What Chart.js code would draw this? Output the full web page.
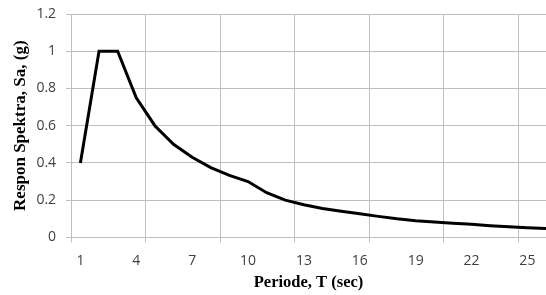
<!DOCTYPE html>
<html>
<head>
<meta charset="utf-8">
<script src="https://cdn.jsdelivr.net/npm/chart.js@4"></script>
<style>
  html, body { margin: 0; padding: 0; background: #fff; }
  #wrap { width: 546px; height: 295px; position: relative; }
</style>
</head>
<body>
<div id="wrap"><canvas id="c" width="546" height="295"></canvas></div>
<script>
const periods = [1,2,3,4,5,6,7,8,9,10,11,12,13,14,15,16,17,18,19,20,21,22,23,24,25,26];
const sa = [0.4,1.0,1.0,0.75,0.6,0.5,0.43,0.375,0.333,0.3,0.24,0.2,0.175,0.155,0.14,0.127,0.113,0.1,0.09,0.083,0.076,0.07,0.063,0.057,0.052,0.048];
const xLabelTicks = [1,4,7,10,13,16,19,22,25];
const xGridTicks = [0.5,4.5,8.5,12.5,16.5,20.5,24.5];
const yTicks = [0,0.2,0.4,0.6,0.8,1.0,1.2];

const gridColor = '#bfbfbf';
const tickFont = { family: 'Open Sans', size: 14 };

new Chart(document.getElementById('c'), {
  type: 'line',
  data: {
    datasets: [{
      data: periods.map((p, i) => ({ x: p, y: sa[i] })),
      borderColor: '#000',
      borderWidth: 3,
      pointRadius: 0,
      tension: 0,
      fill: false
    }]
  },
  options: {
    responsive: false,
    animation: false,
    devicePixelRatio: 1,
    layout: { padding: { left: 10, right: 0, top: 0, bottom: 2 } },
    plugins: { legend: { display: false }, tooltip: { enabled: false } },
    scales: {
      x: {
        type: 'linear',
        min: 0.5,
        max: 26,
        afterBuildTicks: (axis) => {
          const all = xLabelTicks.concat(xGridTicks).sort((a, b) => a - b);
          axis.ticks = all.map(v => ({ value: v }));
        },
        ticks: {
          autoSkip: false,
          maxRotation: 0,
          padding: 10,
          color: '#404040',
          font: tickFont,
          callback: (v) => Number.isInteger(v) ? String(v) : ''
        },
        grid: {
          color: (ctx) => (ctx.tick && !Number.isInteger(ctx.tick.value)) ? gridColor : 'rgba(0,0,0,0)',
          lineWidth: 1,
          tickLength: 5
        },
        border: { display: true, color: gridColor },
        title: {
          display: true,
          text: 'Periode, T (sec)',
          color: '#000',
          font: { family: 'Liberation Serif', size: 16.5, weight: 'bold' },
          padding: { top: -6, bottom: 0 }
        }
      },
      y: {
        min: 0,
        max: 1.2,
        afterBuildTicks: (axis) => { axis.ticks = yTicks.map(v => ({ value: v })); },
        afterFit: (scale) => { scale.paddingTop = 14; },
        ticks: {
          padding: 10,
          color: '#404040',
          font: tickFont,
          callback: (v) => String(Number(v.toFixed(1)))
        },
        grid: { color: gridColor, lineWidth: 1, tickLength: 5 },
        border: { display: true, color: gridColor },
        title: {
          display: true,
          text: 'Respon Spektra, Sa, (g)',
          color: '#000',
          font: { family: 'Liberation Serif', size: 17, weight: 'bold' },
          padding: { top: 0, bottom: -4 }
        }
      }
    }
  }
});
</script>
</body>
</html>
